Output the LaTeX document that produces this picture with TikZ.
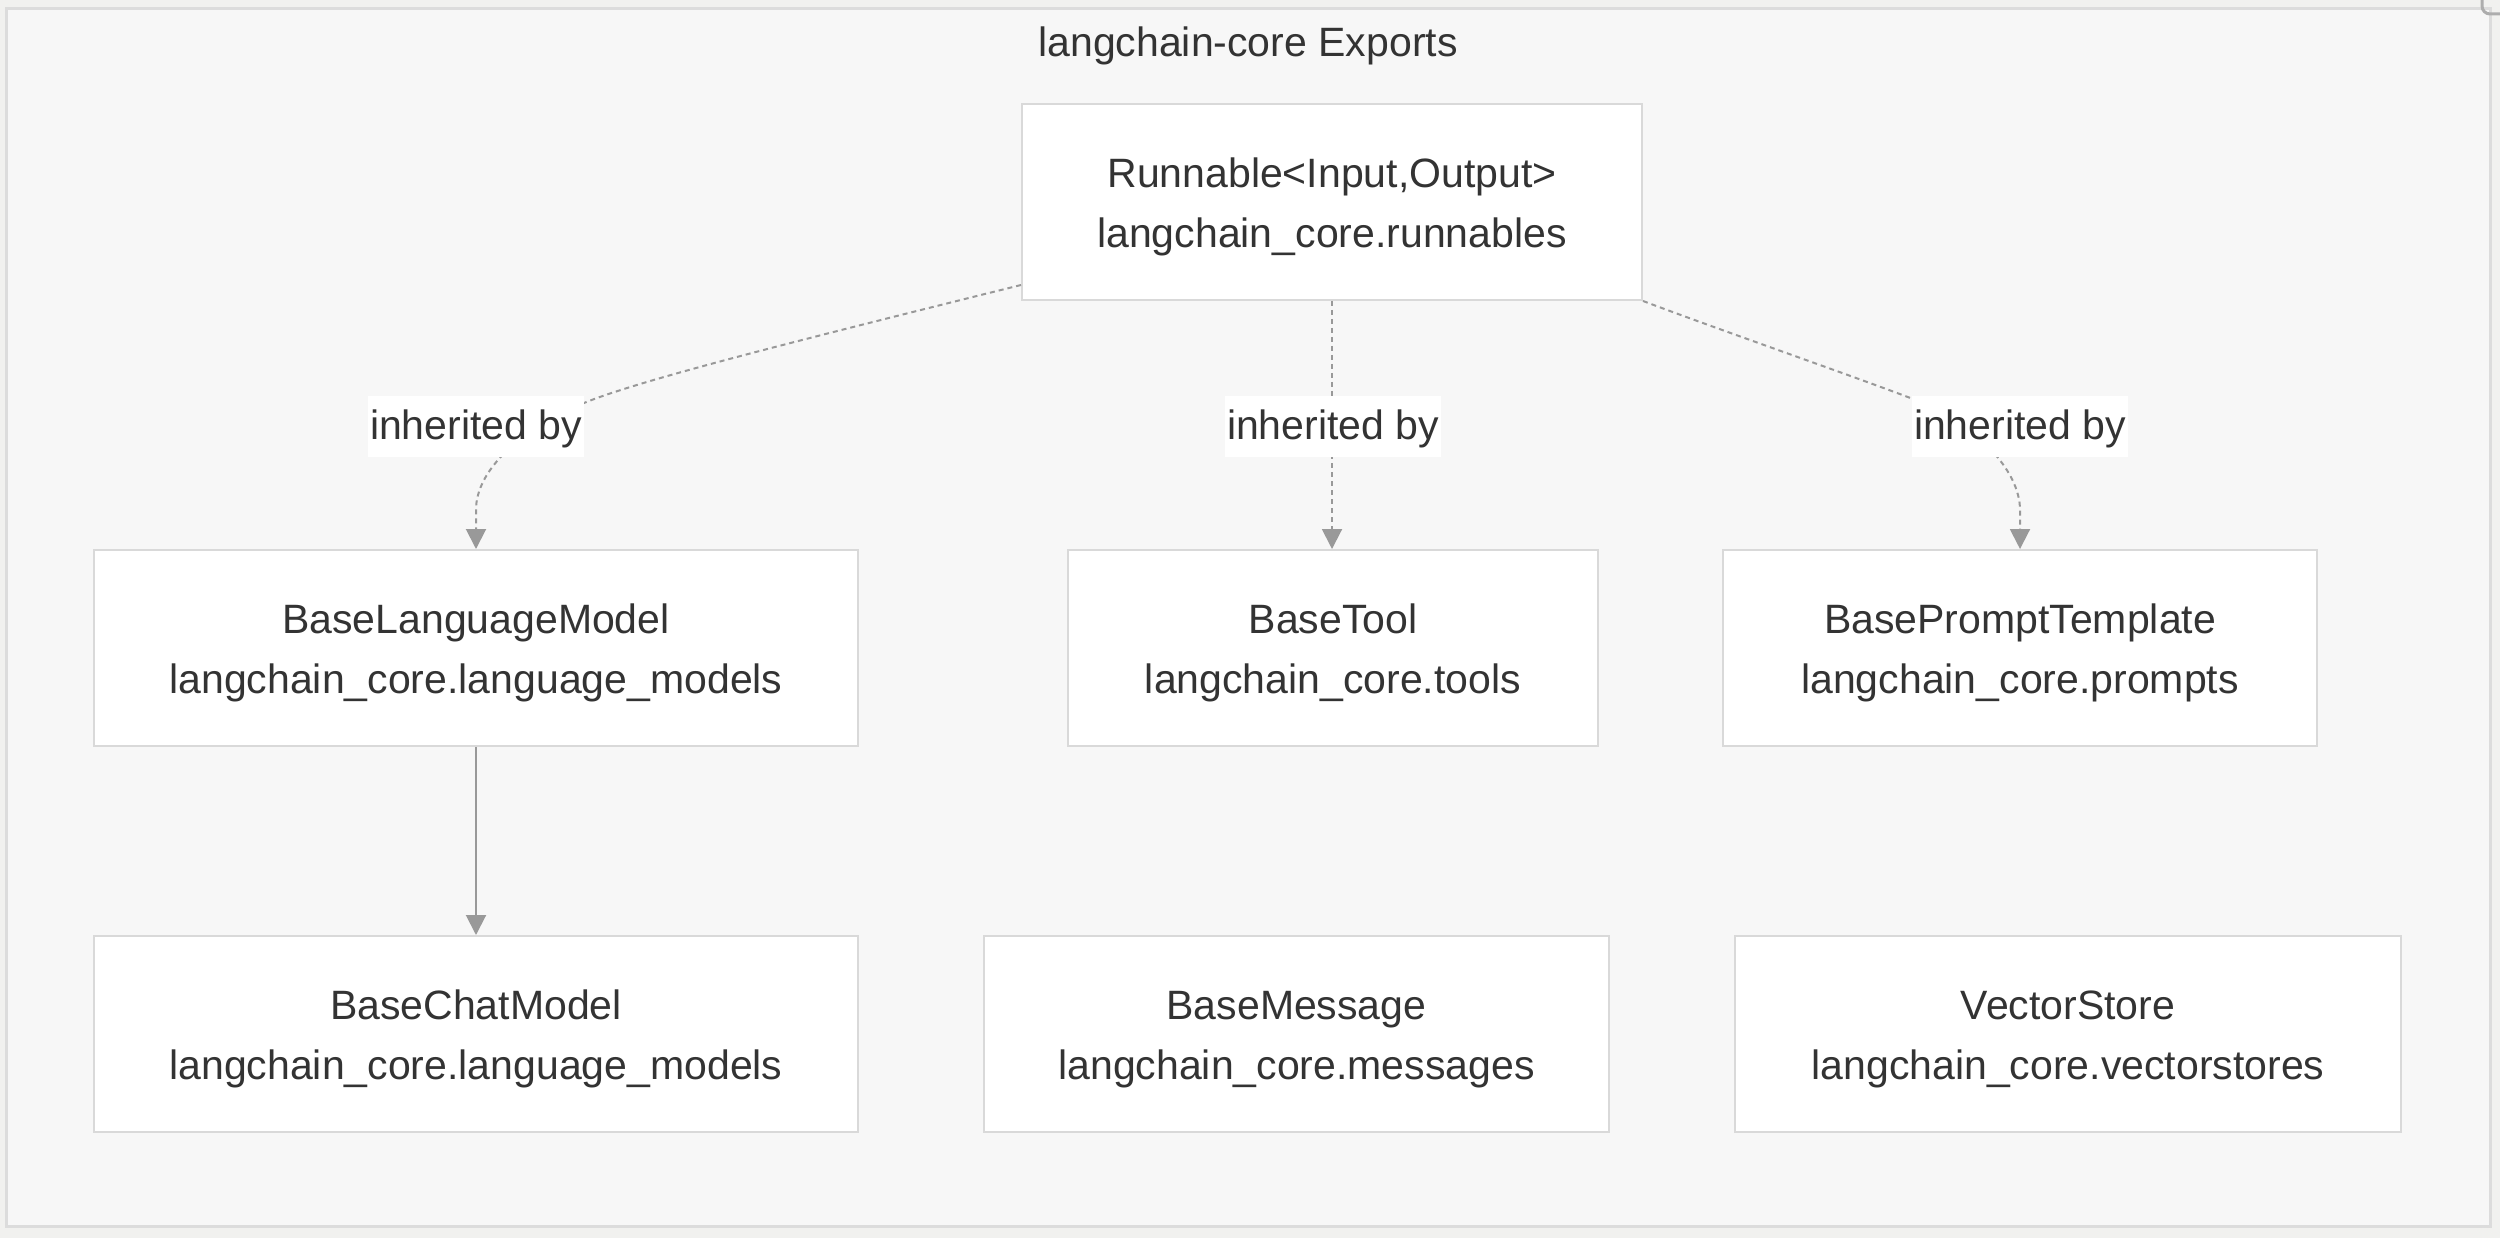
\documentclass[tikz,border=0pt]{standalone}
\usepackage{fontspec}
\setmainfont{Liberation Sans}
\usetikzlibrary{arrows.meta}
\definecolor{pagebg}{HTML}{F1F1EF}
\definecolor{framebg}{HTML}{F7F7F7}
\definecolor{framebd}{HTML}{DCDCDC}
\definecolor{boxbd}{HTML}{D9D9D9}
\definecolor{txt}{HTML}{333333}
\definecolor{edgec}{HTML}{999999}
\newcommand\topstrut{\rule{0pt}{39.5pt}}
\begin{document}
\begin{tikzpicture}[x=1pt,y=-1pt,
  box/.style={draw=boxbd, fill=white, line width=2pt, minimum height=196pt, inner sep=0pt,
    align=center, text=txt, font=\fontsize{41}{60}\selectfont},
  lab/.style={fill=white, inner xsep=2pt, inner ysep=0pt, minimum height=61pt, text=txt,
    text height=33pt, text depth=5.6pt, font=\fontsize{41}{60}\selectfont},
  dep/.style={draw=edgec, line width=2pt, dash pattern=on 5pt off 4pt,
    -{Triangle[length=20pt,width=20pt]}, color=edgec},
  solidedge/.style={draw=edgec, line width=2pt, -{Triangle[length=20pt,width=20pt]}, color=edgec}]
\useasboundingbox (0,0) rectangle (2500,1238);
\fill[pagebg] (0,0) rectangle (2500,1238);
\draw[draw=framebd, fill=framebg, line width=3pt] (6,9) rectangle (2490,1226);
\draw[draw=edgec!80, line width=3pt, rounded corners=8pt] (2482,-30) -- (2482,14) -- (2540,14);
\node[text=txt, font=\fontsize{41}{60}\selectfont] (title) at (1248,46) {langchain-core Exports};

\node[box, minimum width=620pt] (run) at (1332,202) {\topstrut Runnable<Input,Output>\\langchain\_core.runnables};
\node[box, minimum width=764pt] (blm) at (476,648) {\topstrut BaseLanguageModel\\langchain\_core.language\_models};
\node[box, minimum width=530pt] (tool) at (1333,648) {\topstrut BaseTool\\langchain\_core.tools};
\node[box, minimum width=594pt] (bpt) at (2020,648) {\topstrut BasePromptTemplate\\langchain\_core.prompts};
\node[box, minimum width=764pt] (bcm) at (476,1034) {\topstrut BaseChatModel\\langchain\_core.language\_models};
\node[box, minimum width=625pt] (msg) at (1296.5,1034) {\topstrut BaseMessage\\langchain\_core.messages};
\node[box, minimum width=666pt] (vs) at (2068,1034) {\topstrut VectorStore\\langchain\_core.vectorstores};

\coordinate (c1) at (584,403);
\coordinate (c3) at (1913,399);
\draw[dep] ([yshift=16pt]run.south west) .. controls (800,340) and (640,380) .. (c1)
  .. controls (520,430) and (476,470) .. (476,510) -- (blm.north);
\draw[dep] (run.south) -- (run.south |- tool.north);
\draw[dep] (run.south east) .. controls (1720,330) and (1850,375) .. (c3)
  .. controls (1975,423) and (2020,470) .. (2020,510) -- (bpt.north);
\draw[solidedge] (blm.south) -- (bcm.north);

\node[lab] (l1) at (476,426) {inherited by};
\node[lab] (l2) at (1333,426) {inherited by};
\node[lab] (l3) at (2020,426) {inherited by};
\end{tikzpicture}
\end{document}
